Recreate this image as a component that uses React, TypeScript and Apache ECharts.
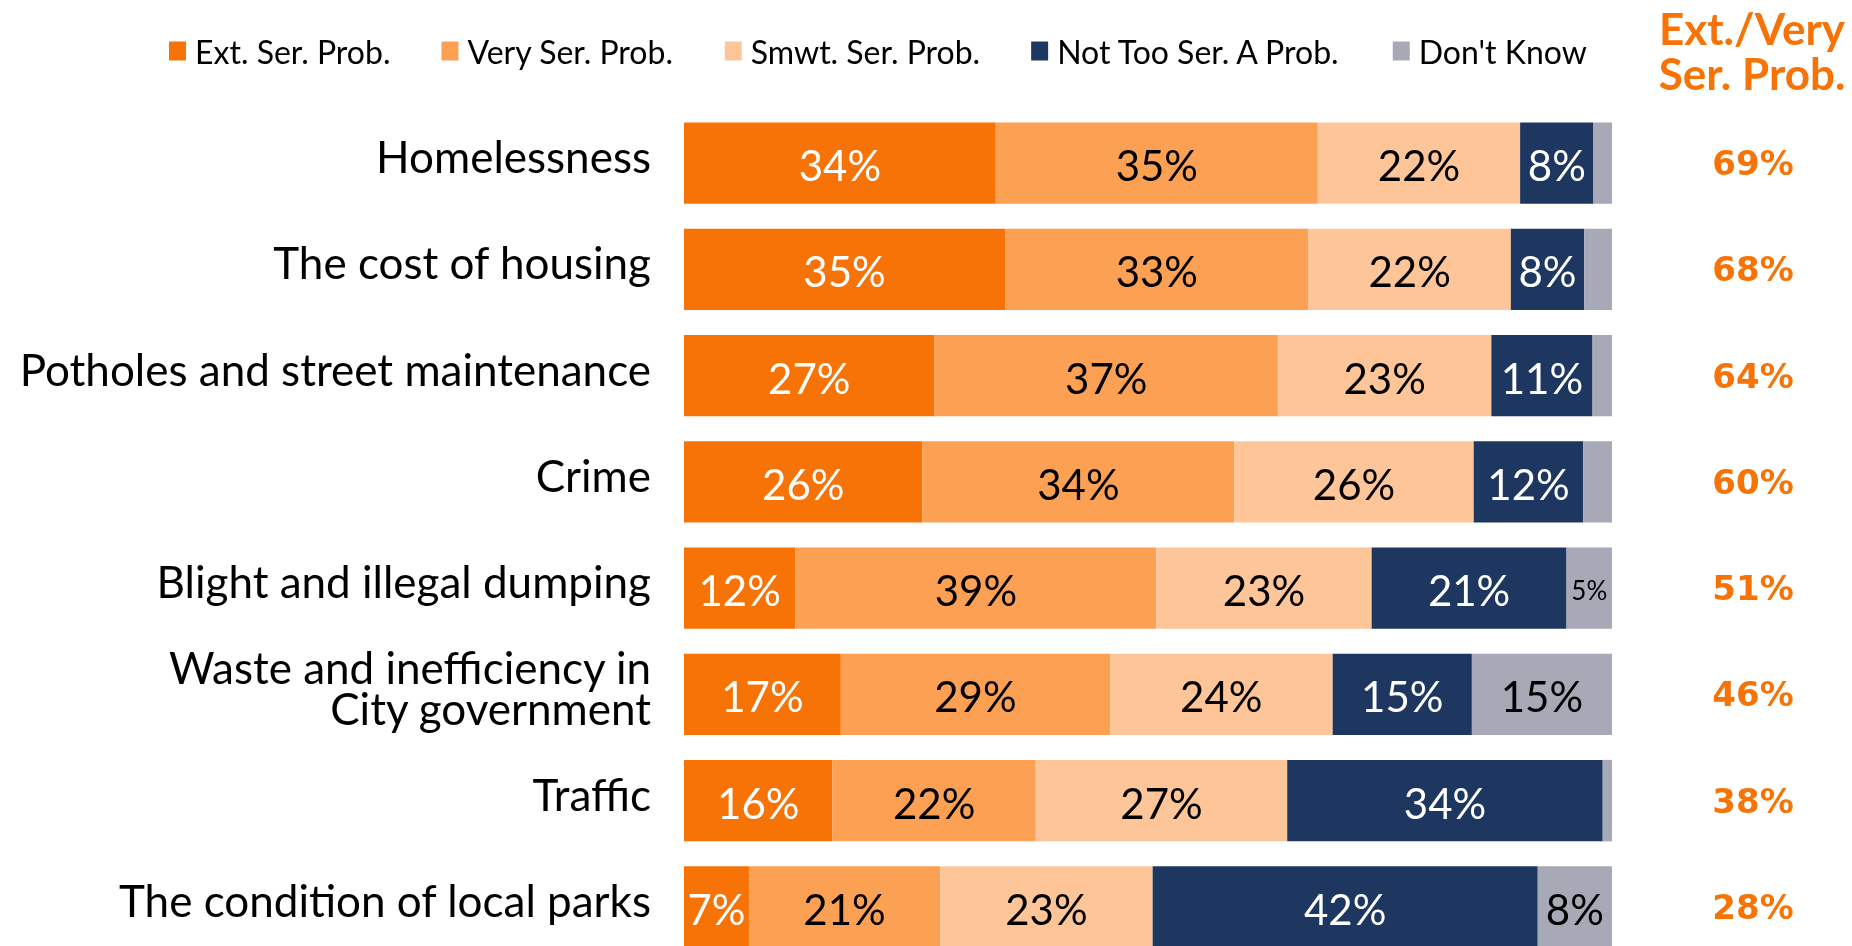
import React, { useEffect, useRef } from "react";
import * as echarts from "echarts";

const categories = [
  "Homelessness",
  "The cost of housing",
  "Potholes and street maintenance",
  "Crime",
  "Blight and illegal dumping",
  "Waste and inefficiency in\nCity government",
  "Traffic",
  "The condition of local parks",
];

const seriesNames = ["Ext. Ser. Prob.", "Very Ser. Prob.", "Smwt. Ser. Prob.", "Not Too Ser. A Prob.", "Don't Know"];

const extSer = [33.6, 34.6, 27.0, 25.7, 12.0, 16.9, 16.0, 7.0];
const verySer = [34.7, 32.7, 37.0, 33.6, 38.9, 29.0, 21.9, 20.6];
const smwtSer = [21.8, 21.8, 23.0, 25.8, 23.2, 24.0, 27.1, 22.9];
const notTooSer = [7.9, 7.9, 10.9, 11.8, 21.0, 15.0, 34.0, 41.5];
const dontKnow = [2.0, 3.0, 2.1, 3.1, 4.9, 15.1, 1.0, 8.0];

const extVeryTotals = [69, 68, 64, 60, 51, 46, 38, 28];

const colors = ["#F77306", "#FCA154", "#FEC698", "#1D3761", "#A8A9B7"];
const labelColors = ["#FFFFFF", "#000000", "#000000", "#FFFFFF", "#000000"];

const FONT = "Lato, 'Open Sans', sans-serif";

export default function App() {
  const ref = useRef<HTMLDivElement>(null);

  useEffect(() => {
    if (!ref.current) return;
    const chart = echarts.init(ref.current, null, { renderer: "svg" });
    const allData = [extSer, verySer, smwtSer, notTooSer, dontKnow];

    const series = allData.map((arr, i) => ({
      name: seriesNames[i],
      type: "bar",
      stack: "total",
      barCategoryGap: "23.3%",
      itemStyle: { color: colors[i] },
      data: arr.map((v) => {
        if (i === 4) {
          return {
            value: v,
            label: {
              show: v >= 4,
              fontSize: v < 6 ? 26 : 42,
            },
          };
        }
        return v;
      }),
      label: {
        show: true,
        position: "inside",
        offset: [0, 2],
        color: labelColors[i],
        fontSize: 42,
        fontFamily: FONT,
        formatter: (p: any) => Math.round(p.value) + "%",
      },
    }));

    chart.setOption({
      animation: false,
      legend: {
        data: seriesNames,
        left: 164,
        top: 30,
        itemWidth: 17,
        itemHeight: 19,
        itemGap: 51,
        icon: "rect",
        textStyle: { fontSize: 32, fontFamily: FONT, color: "#000", padding: [0, 0, 0, 4] },
      },
      grid: { left: 684, width: 928, top: 110, height: 850 },
      xAxis: { type: "value", min: 0, max: 100, show: false },
      yAxis: [
        {
          type: "category",
          data: categories,
          inverse: true,
          axisLine: { show: false },
          axisTick: { show: false },
          axisLabel: {
            margin: 33,
            fontSize: 44,
            lineHeight: 41,
            fontFamily: FONT,
            color: "#000",
            formatter: (v: string) => v + "\n{s|}",
            rich: { s: { lineHeight: 14, fontSize: 10 } },
          },
        },
        {
          type: "category",
          data: extVeryTotals.map((v) => v + "%"),
          inverse: true,
          position: "right",
          axisLine: { show: false },
          axisTick: { show: false },
          axisLabel: {
            margin: 141,
            align: "center",
            fontSize: 34,
            fontWeight: "bold",
            fontFamily: "'DejaVu Sans', sans-serif",
            color: "#F77306",
          },
        },
      ],
      graphic: [
        {
          type: "text",
          x: 1752,
          y: 50,
          style: {
            text: "Ext./Very\nSer. Prob.",
            align: "center",
            verticalAlign: "middle",
            fontSize: 44,
            lineHeight: 45,
            fontWeight: "bold",
            fontFamily: FONT,
            fill: "#F77306",
          },
        },
      ],
      series,
    });

    return () => chart.dispose();
  }, []);

  return (
    <div
      style={{ position: "fixed", left: 0, top: 0, width: 1852, height: 946, overflow: "hidden" }}
    >
      <div ref={ref} style={{ width: 1852, height: 962 }} />
    </div>
  );
}
